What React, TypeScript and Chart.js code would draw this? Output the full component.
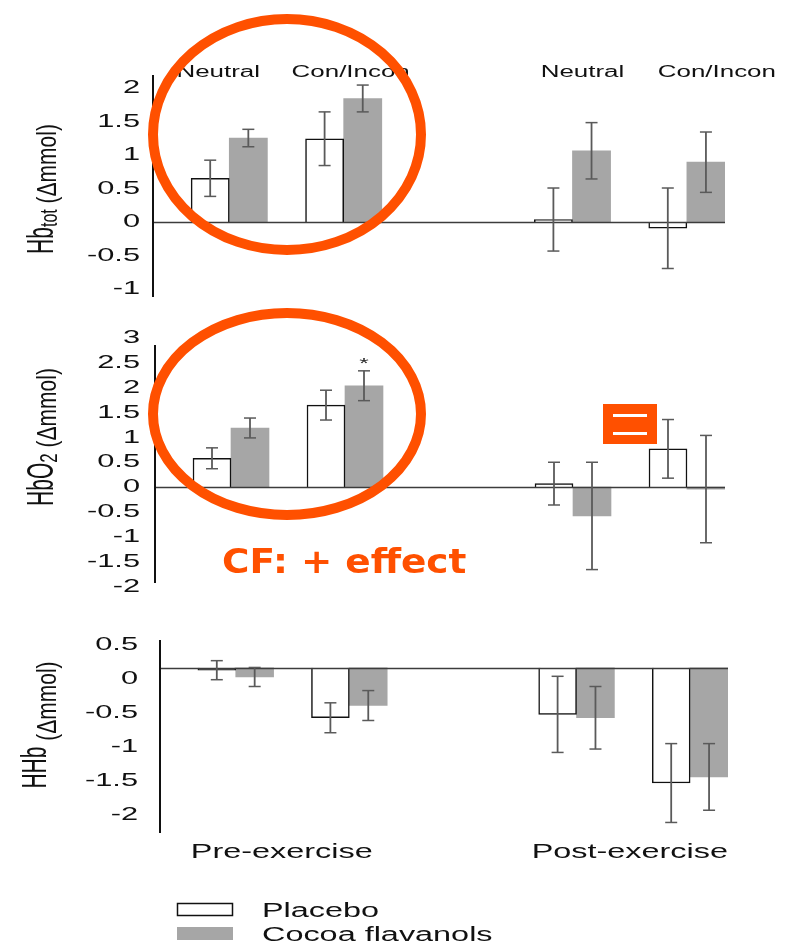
import React, { useEffect, useRef } from 'react';
import { Chart, registerables } from 'chart.js';

Chart.register(...registerables);

// ---------- data ----------
const categories = ['Neutral', 'Con/Incon', '', 'Neutral', 'Con/Incon'];
const phases = ['Pre-exercise', 'Post-exercise'];
const phaseStartSlots = [0, 3];
const seriesNames = ['Placebo', 'Cocoa flavanols'];

const hbtotPlacebo = [0.65, 1.24, null, 0.035, -0.095];
const hbtotPlaceboErr = [0.27, 0.4, null, 0.47, 0.6];
const hbtotCocoa = [1.25, 1.84, null, 1.06, 0.89];
const hbtotCocoaErr = [0.13, 0.2, null, 0.42, 0.45];
const hbtotTicks = [-1, -0.5, 0, 0.5, 1, 1.5, 2];

const hbo2Placebo = [0.58, 1.65, null, 0.07, 0.77];
const hbo2PlaceboErr = [0.21, 0.3, null, 0.43, 0.59];
const hbo2Cocoa = [1.19, 2.04, null, -0.58, -0.04];
const hbo2CocoaErr = [0.2, 0.3, null, 1.08, 1.08];
const hbo2CocoaMarks = ['', '*', '', '', ''];
const hbo2Ticks = [-2, -1.5, -1, -0.5, 0, 0.5, 1, 1.5, 2, 2.5, 3];

const hhbPlacebo = [0.13, -0.57, null, -0.52, -1.53];
const hhbPlaceboErr = [0.14, 0.22, null, 0.56, 0.58];
const hhbCocoa = [0.03, -0.39, null, -0.57, -1.44];
const hhbCocoaErr = [0.14, 0.22, null, 0.46, 0.49];
const hhbAxisCross = 0.166;
const hhbTicks = [-2, -1.5, -1, -0.5, 0, 0.5];

// ---------- style ----------
const S = 1.62; // horizontal text stretch of the original figure
const SANS = '"Liberation Sans", Arial, Helvetica, sans-serif';
const ORANGE = '#ff5000';
const GREY_BAR = '#a6a6a6';
const ERR_COLOR = '#5a5a5a';

type Part = { text: string; size: number; sx: number; shift: number };

function stretchedText(ctx: CanvasRenderingContext2D, text: string, x: number, y: number, font: string, align: CanvasTextAlign, baseline: CanvasTextBaseline, color = '#111', sx = S) {
  ctx.save();
  ctx.translate(x, y);
  ctx.scale(sx, 1);
  ctx.font = font;
  ctx.textAlign = align;
  ctx.textBaseline = baseline;
  ctx.fillStyle = color;
  ctx.fillText(text, 0, 0);
  ctx.restore();
}

// rotated axis title; each part can have its own glyph-height stretch and baseline shift
function drawTitle(ctx: CanvasRenderingContext2D, parts: Part[], baseX: number, cy: number) {
  ctx.save();
  const widths = parts.map((p) => {
    ctx.font = `${p.size}px ${SANS}`;
    return ctx.measureText(p.text).width;
  });
  const total = widths.reduce((a, b) => a + b, 0);
  let along = 0;
  parts.forEach((p, i) => {
    ctx.save();
    ctx.translate(baseX + p.shift, cy + total / 2 - along);
    ctx.scale(p.sx, 1);
    ctx.rotate(-Math.PI / 2);
    ctx.font = `${p.size}px ${SANS}`;
    ctx.fillStyle = '#111';
    ctx.textAlign = 'left';
    ctx.textBaseline = 'alphabetic';
    ctx.fillText(p.text, 0, 0);
    ctx.restore();
    along += widths[i];
  });
  ctx.restore();
}

function line(ctx: CanvasRenderingContext2D, x1: number, y1: number, x2: number, y2: number) {
  ctx.beginPath();
  ctx.moveTo(x1, y1);
  ctx.lineTo(x2, y2);
  ctx.stroke();
}

type PanelCfg = {
  id: string;
  top: number;
  height: number;
  padding: { left: number; right: number; top: number; bottom: number };
  min: number;
  max: number;
  ticks: number[];
  tickGap: number;
  placebo: (number | null)[];
  placeboErr: (number | null)[];
  cocoa: (number | null)[];
  cocoaErr: (number | null)[];
  cocoaMarks?: string[];
  base?: number;
  title: Part[];
  titleX: number;
  titleCy: number;
  condLabels?: boolean;
  phaseLabels?: boolean;
  legend?: boolean;
  annotate?: (ctx: CanvasRenderingContext2D) => void;
};

const condShift = [-11, 7, 10, 30];

function makePlugin(cfg: PanelCfg) {
  return {
    id: 'panel-' + cfg.id,
    afterDatasetsDraw(chart: any) {
      const ctx: CanvasRenderingContext2D = chart.ctx;
      const y = chart.scales.y;
      const area = chart.chartArea;
      ctx.save();
      // horizontal axis line (at crossing value)
      ctx.strokeStyle = '#3c3c3c';
      ctx.lineWidth = 1.5;
      const by = Math.round(y.getPixelForValue(cfg.base ?? 0)) + 0.5;
      line(ctx, area.left, by, area.right, by);
      // vertical axis
      ctx.strokeStyle = '#111';
      ctx.lineWidth = 2;
      line(ctx, area.left, area.top, area.left, area.bottom);
      // error bars
      ctx.strokeStyle = ERR_COLOR;
      [1, 2].forEach((di) => {
        const ds = chart.data.datasets[di];
        const meta = chart.getDatasetMeta(di);
        meta.data.forEach((bar: any, j: number) => {
          const v = ds.data[j];
          const e = ds.errors[j];
          if (v == null || e == null) return;
          const cx = bar.x;
          const yt = y.getPixelForValue(v + e);
          const yb = y.getPixelForValue(v - e);
          ctx.lineWidth = 1.8;
          line(ctx, cx, yt, cx, yb);
          ctx.lineWidth = 1.5;
          line(ctx, cx - 6, yt, cx + 6, yt);
          line(ctx, cx - 6, yb, cx + 6, yb);
          const mark = ds.marks ? ds.marks[j] : '';
          if (mark) stretchedText(ctx, mark, cx, yt - 3, `15px ${SANS}`, 'center', 'alphabetic', '#222');
        });
      });
      ctx.restore();
    },
    afterDraw(chart: any) {
      const ctx: CanvasRenderingContext2D = chart.ctx;
      const y = chart.scales.y;
      const area = chart.chartArea;
      // tick labels
      cfg.ticks.forEach((t) => {
        stretchedText(ctx, String(t), area.left - cfg.tickGap, y.getPixelForValue(t), `19px ${SANS}`, 'right', 'middle');
      });
      // axis title
      drawTitle(ctx, cfg.title, cfg.titleX, cfg.titleCy);
      const pMeta = chart.getDatasetMeta(1);
      if (cfg.condLabels) {
        let k = 0;
        categories.forEach((c, i) => {
          if (!c) return;
          const bar = pMeta.data[i];
          const cx = bar.x + bar.width / 2 + condShift[k++];
          stretchedText(ctx, c, cx, area.top - 2, `16px ${SANS}`, 'center', 'middle');
        });
      }
      if (cfg.phaseLabels) {
        phases.forEach((p, i) => {
          const bar = pMeta.data[phaseStartSlots[i]];
          stretchedText(ctx, p, bar.x - bar.width / 2 - 7, area.bottom + 19, `20px ${SANS}`, 'left', 'middle');
        });
      }
      if (cfg.legend) {
        const boxTop = area.bottom + 70;
        seriesNames.forEach((n, i) => {
          const ty = boxTop + i * 24;
          ctx.save();
          if (i === 0) {
            ctx.fillStyle = '#fff';
            ctx.fillRect(177, ty, 56, 13);
            ctx.strokeStyle = '#111';
            ctx.lineWidth = 1.5;
            ctx.strokeRect(177.5, ty + 0.5, 55, 12);
          } else {
            ctx.fillStyle = GREY_BAR;
            ctx.fillRect(177, ty, 56, 13);
          }
          ctx.restore();
          stretchedText(ctx, n, 262, ty + 8, `20px ${SANS}`, 'left', 'middle');
        });
      }
      if (cfg.annotate) cfg.annotate(ctx);
    },
  };
}

function ellipse(ctx: CanvasRenderingContext2D, cx: number, cy: number, rx: number, ry: number) {
  ctx.save();
  ctx.strokeStyle = ORANGE;
  ctx.lineWidth = 10;
  ctx.beginPath();
  ctx.ellipse(cx, cy, rx, ry, 0, 0, Math.PI * 2);
  ctx.stroke();
  ctx.restore();
}

const panels: PanelCfg[] = [
  {
    id: 'hbtot',
    top: 0,
    height: 305,
    padding: { left: 153, right: 80, top: 75, bottom: 8 },
    min: -1.12,
    max: 2.19,
    ticks: hbtotTicks,
    tickGap: 13,
    placebo: hbtotPlacebo,
    placeboErr: hbtotPlaceboErr,
    cocoa: hbtotCocoa,
    cocoaErr: hbtotCocoaErr,
    title: [
      { text: 'Hb', size: 21, sx: 1.75, shift: 0 },
      { text: 'tot', size: 16, sx: 1.45, shift: 4 },
      { text: ' (\u0394mmol)', size: 21, sx: 1.35, shift: 3 },
    ],
    titleX: 53,
    titleCy: 189,
    condLabels: true,
    annotate: (ctx) => {
      ellipse(ctx, 287, 134.5, 134, 115.5);
    },
  },
  {
    id: 'hbo2',
    top: 305,
    height: 290,
    padding: { left: 155, right: 80, top: 40, bottom: 12 },
    min: -1.93,
    max: 2.86,
    ticks: hbo2Ticks,
    tickGap: 15,
    placebo: hbo2Placebo,
    placeboErr: hbo2PlaceboErr,
    cocoa: hbo2Cocoa,
    cocoaErr: hbo2CocoaErr,
    cocoaMarks: hbo2CocoaMarks,
    title: [
      { text: 'HbO', size: 21, sx: 1.75, shift: 0 },
      { text: '2', size: 17, sx: 1.45, shift: 4 },
      { text: ' (\u0394mmol)', size: 21, sx: 1.35, shift: 3 },
    ],
    titleX: 53,
    titleCy: 132,
    annotate: (ctx) => {
      ellipse(ctx, 287, 109, 134, 101);
      ctx.save();
      ctx.fillStyle = ORANGE;
      ctx.font = `bold 34px "DejaVu Sans", Verdana, sans-serif`;
      ctx.textAlign = 'left';
      ctx.textBaseline = 'alphabetic';
      ctx.translate(222, 268);
      ctx.scale(1.1, 1);
      ctx.fillText('CF: + effect', 0, 0);
      ctx.restore();
      // "=" marker box
      ctx.save();
      ctx.fillStyle = ORANGE;
      ctx.fillRect(603, 99, 54, 40);
      ctx.fillStyle = '#fff';
      ctx.fillRect(613, 109, 34, 3);
      ctx.fillRect(613, 127, 34, 3);
      ctx.restore();
    },
  },
  {
    id: 'hhb',
    top: 595,
    height: 356,
    padding: { left: 160, right: 77, top: 45, bottom: 118 },
    min: -2.265,
    max: 0.574,
    ticks: hhbTicks,
    tickGap: 22,
    placebo: hhbPlacebo,
    placeboErr: hhbPlaceboErr,
    cocoa: hhbCocoa,
    cocoaErr: hhbCocoaErr,
    base: hhbAxisCross,
    title: [
      { text: 'HHb', size: 21, sx: 1.65, shift: 0 },
      { text: ' (\u0394mmol)', size: 21, sx: 1.3, shift: 10 },
    ],
    titleX: 46,
    titleCy: 130,
    phaseLabels: true,
    legend: true,
  },
];

function Panel({ cfg }: { cfg: PanelCfg }) {
  const ref = useRef<HTMLCanvasElement | null>(null);
  useEffect(() => {
    if (!ref.current) return;
    const baseOpt = cfg.base !== undefined ? { base: cfg.base } : {};
    const chart = new Chart(ref.current, {
      type: 'bar',
      data: {
        labels: categories,
        datasets: [
          { label: 'spacer', data: categories.map(() => null) } as any,
          {
            label: seriesNames[0],
            data: cfg.placebo,
            backgroundColor: '#ffffff',
            borderColor: '#111111',
            borderWidth: 1.5,
            errors: cfg.placeboErr,
            ...baseOpt,
          } as any,
          {
            label: seriesNames[1],
            data: cfg.cocoa,
            backgroundColor: GREY_BAR,
            borderWidth: 0,
            errors: cfg.cocoaErr,
            marks: cfg.cocoaMarks,
            ...baseOpt,
          } as any,
        ],
      },
      options: {
        responsive: false,
        animation: false,
        devicePixelRatio: 1,
        layout: { padding: cfg.padding },
        datasets: { bar: { categoryPercentage: 1, barPercentage: 1 } },
        plugins: { legend: { display: false }, tooltip: { enabled: false } },
        scales: {
          x: { display: false, offset: true, grid: { display: false } },
          y: { display: false, min: cfg.min, max: cfg.max, grid: { display: false } },
        },
      },
      plugins: [makePlugin(cfg)],
    });
    return () => chart.destroy();
  }, [cfg]);
  return (
    <canvas
      ref={ref}
      width={805}
      height={cfg.height}
      style={{ position: 'absolute', left: 0, top: cfg.top, width: 805, height: cfg.height }}
    />
  );
}

export default function App() {
  return (
    <div style={{ position: 'absolute', left: 0, top: 0, width: 805, height: 951, background: '#fff', overflow: 'hidden' }}>
      {panels.map((p) => (
        <Panel key={p.id} cfg={p} />
      ))}
    </div>
  );
}
